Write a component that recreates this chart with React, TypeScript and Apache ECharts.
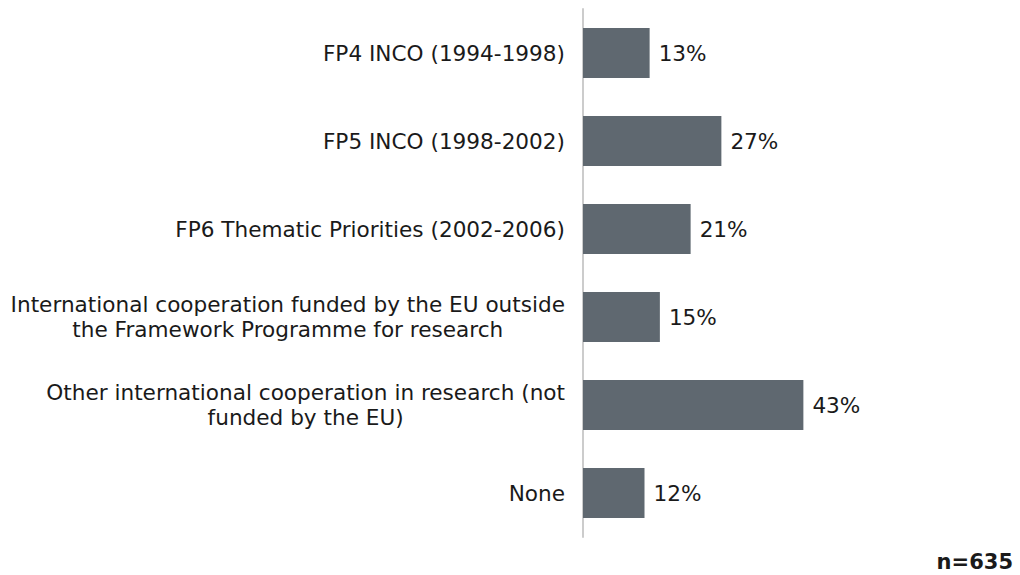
import React, { useEffect, useRef } from "react";
import * as echarts from "echarts";

const categories = [
  "FP4 INCO (1994-1998)",
  "FP5 INCO (1998-2002)",
  "FP6 Thematic Priorities (2002-2006)",
  "International cooperation funded by the EU outside\nthe Framework Programme for research",
  "Other international cooperation in research (not\nfunded by the EU)",
  "None",
];
const values = [13, 27, 21, 15, 43, 12];
const sampleNote = "n=635";

export default function App() {
  const ref = useRef<HTMLDivElement>(null);
  useEffect(() => {
    document.body.style.margin = "0";
    const chart = echarts.init(ref.current!, undefined, { renderer: "svg" });
    const font = "DejaVu Sans";
    const fs = 21.6;
    chart.setOption({
      animation: false,
      backgroundColor: "#ffffff",
      grid: { left: 583, top: 9, width: 410, height: 528, containLabel: false },
      xAxis: {
        type: "value",
        min: 0,
        max: 80,
        show: false,
      },
      yAxis: {
        type: "category",
        inverse: true,
        data: categories,
        axisLine: { show: true, lineStyle: { color: "#cccccc", width: 2 } },
        axisTick: { show: false },
        axisLabel: {
          margin: 18,
          align: "right",
          formatter: (v: string) =>
            v
              .split("\n")
              .map((line) => "{c|" + line + "}")
              .join("\n"),
          rich: {
            c: {
              align: "center",
              color: "#1a1a1a",
              fontFamily: font,
              fontSize: fs,
              lineHeight: 25,
            },
          },
        },
      },
      series: [
        {
          type: "bar",
          data: values,
          barWidth: 50,
          itemStyle: { color: "#5f6870" },
          label: {
            show: true,
            position: "right",
            distance: 9,
            formatter: "{c}%",
            color: "#1a1a1a",
            fontFamily: font,
            fontSize: fs,
          },
        },
      ],
      graphic: [
        {
          type: "text",
          right: 7,
          top: 551,
          style: {
            text: sampleNote,
            font: "bold 21px 'DejaVu Sans'",
            fill: "#1a1a1a",
          },
        },
      ],
    });
    return () => chart.dispose();
  }, []);
  return <div ref={ref} style={{ width: 1020, height: 575 }} />;
}
